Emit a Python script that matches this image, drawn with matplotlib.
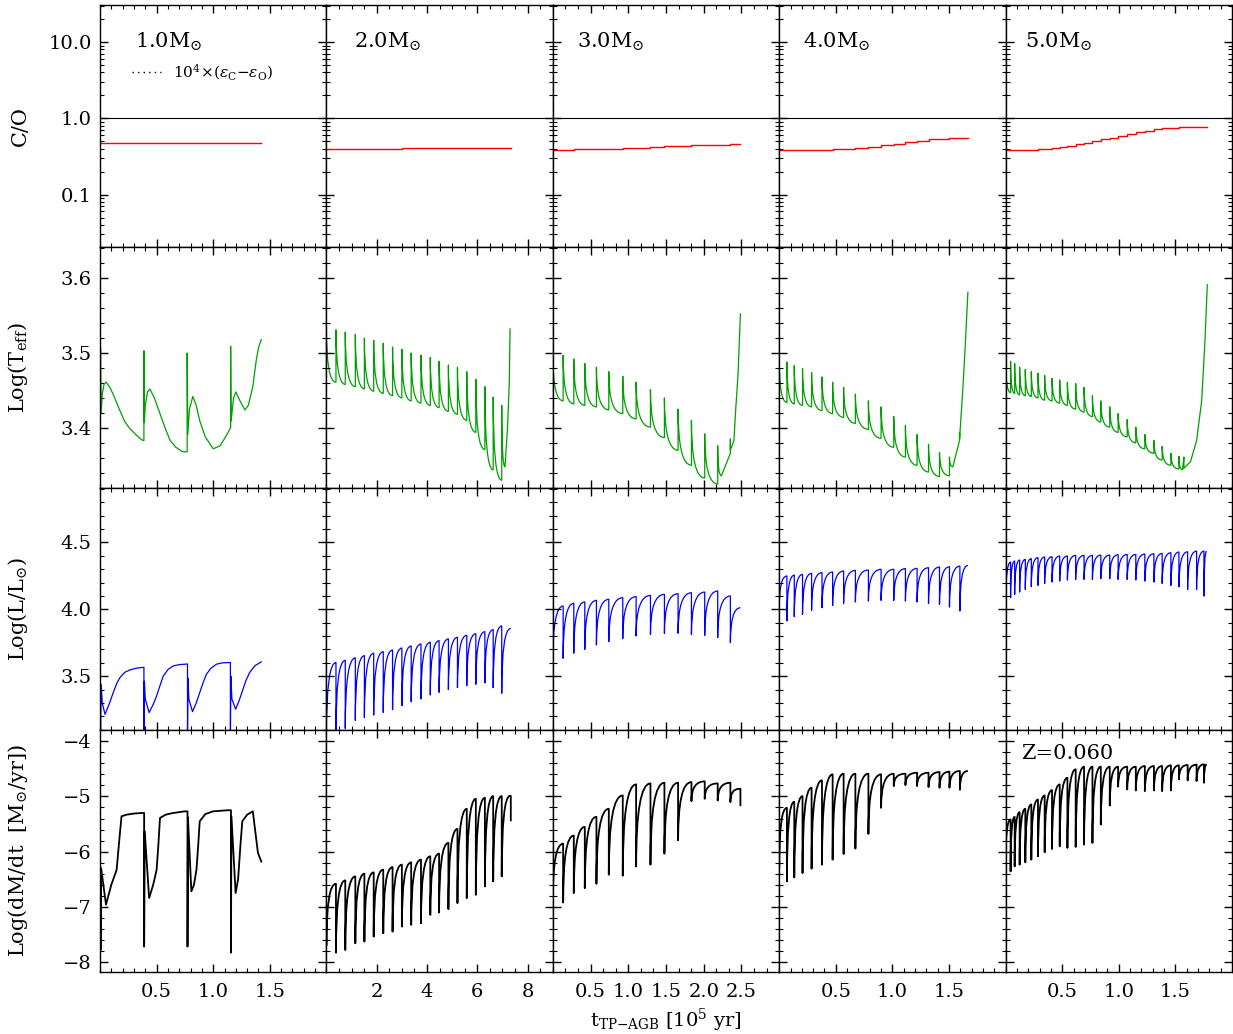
"""
TP-AGB evolution, Z=0.060: C/O, Teff, L and mass-loss rate vs time for 1-5 Msun
"""
import matplotlib
matplotlib.use('Agg')
import matplotlib.pyplot as plt
from matplotlib.path import Path
from matplotlib.patches import PathPatch
from matplotlib.lines import Line2D
from matplotlib.ticker import (MultipleLocator, FixedLocator, LogLocator,
                               NullFormatter, FuncFormatter)

plt.rcParams.update({
    'font.family': 'serif', 'font.serif': ['DejaVu Serif'],
    'mathtext.fontset': 'dejavuserif', 'font.size': 14,
    'xtick.direction': 'in', 'ytick.direction': 'in',
    'xtick.top': True, 'ytick.right': True,
    'xtick.major.size': 6, 'ytick.major.size': 6,
    'xtick.minor.size': 3, 'ytick.minor.size': 3,
    'xtick.major.width': 1.0, 'ytick.major.width': 1.0,
    'xtick.minor.width': 0.8, 'ytick.minor.width': 0.8,
    'axes.linewidth': 1.0,
})

# ---------------- data ----------------
masses = ['1.0', '2.0', '3.0', '4.0', '5.0']
metal = 'Z=0.060'

# 1.0 Msun: few pulses, explicit tracks
T1_t = [0.0, 0.005, 0.01, 0.02, 0.035, 0.053, 0.088, 0.13, 0.176, 0.22, 0.264, 0.323, 0.367, 0.388,
        0.388, 0.392, 0.40, 0.42, 0.44, 0.48, 0.53, 0.58, 0.62, 0.67, 0.73, 0.77,
        0.77, 0.775, 0.79, 0.82, 0.85, 0.88, 0.93, 1.0, 1.06, 1.11, 1.154,
        1.154, 1.158, 1.18, 1.20, 1.24, 1.28, 1.31, 1.35, 1.38, 1.40, 1.425]
T1_v = [3.44, 3.507, 3.42, 3.445, 3.458, 3.461, 3.454, 3.44, 3.423, 3.408, 3.399, 3.390, 3.384, 3.383,
        3.503, 3.407, 3.43, 3.448, 3.452, 3.44, 3.419, 3.398, 3.383, 3.374, 3.368, 3.368,
        3.50, 3.391, 3.425, 3.442, 3.43, 3.41, 3.388, 3.372, 3.376, 3.388, 3.40,
        3.509, 3.409, 3.44, 3.448, 3.435, 3.424, 3.43, 3.455, 3.49, 3.507, 3.518]
L1_t = [0.0, 0.005, 0.01, 0.02, 0.044, 0.08, 0.117, 0.15, 0.176, 0.22, 0.264, 0.32, 0.367, 0.388,
        0.388, 0.392, 0.40, 0.434, 0.47, 0.5, 0.53, 0.558, 0.60, 0.646, 0.70, 0.749, 0.773,
        0.773, 0.777, 0.785, 0.817, 0.85, 0.881, 0.91, 0.94, 0.98, 1.028, 1.08, 1.13, 1.152,
        1.152, 1.156, 1.165, 1.198, 1.23, 1.263, 1.29, 1.322, 1.37, 1.425]
L1_v = [3.46, 3.05, 3.44, 3.30, 3.216, 3.29, 3.378, 3.45, 3.49, 3.53, 3.547, 3.560, 3.565, 3.567,
        3.05, 3.463, 3.33, 3.229, 3.29, 3.353, 3.43, 3.50, 3.55, 3.577, 3.587, 3.59, 3.592,
        3.05, 3.485, 3.33, 3.236, 3.30, 3.378, 3.45, 3.515, 3.56, 3.59, 3.60, 3.602, 3.603,
        3.05, 3.50, 3.33, 3.254, 3.32, 3.403, 3.47, 3.528, 3.58, 3.607]
M1_t = [0.0, 0.005, 0.01, 0.053, 0.10, 0.147, 0.17, 0.19, 0.235, 0.30, 0.367, 0.39,
        0.39, 0.395, 0.434, 0.47, 0.5, 0.515, 0.53, 0.58, 0.646, 0.749, 0.773,
        0.773, 0.777, 0.807, 0.83, 0.852, 0.867, 0.881, 0.93, 0.998, 1.13, 1.157,
        1.157, 1.161, 1.198, 1.22, 1.24, 1.257, 1.30, 1.35, 1.395, 1.425]
M1_v = [-6.08, -7.78, -6.3, -6.96, -6.6, -6.33, -5.8, -5.36, -5.33, -5.31, -5.30, -5.30,
        -7.72, -5.63, -6.84, -6.6, -6.33, -5.9, -5.39, -5.33, -5.30, -5.27, -5.27,
        -7.72, -5.38, -6.72, -6.6, -6.33, -5.9, -5.45, -5.32, -5.27, -5.25, -5.25,
        -7.83, -5.36, -6.75, -6.5, -5.9, -5.45, -5.33, -5.27, -6.02, -6.18]
co1_t = [0.0, 1.425]
co1_v = [0.47, 0.47]

# 2.0 Msun: pulse times, value just before each pulse (hi) and at the pulse (lo)
tp2 = [0, 0.38, 0.75, 1.15, 1.51, 1.88, 2.26, 2.63, 3.00, 3.37, 3.76, 4.13, 4.48, 4.85, 5.21, 5.58, 5.94,
       6.30, 6.63, 6.97]
L2_hi = [3.50, 3.602, 3.619, 3.637, 3.654, 3.672, 3.684, 3.696, 3.711, 3.726, 3.741, 3.754, 3.766, 3.779,
         3.791, 3.806, 3.818, 3.833, 3.848, 3.876]
L2_lo = [3.05, 3.08, 3.11, 3.17, 3.19, 3.21, 3.23, 3.25, 3.28, 3.31, 3.33, 3.36, 3.38, 3.40, 3.415, 3.43,
         3.44, 3.45, 3.415, 3.373]
L2_tail = ([7.33], [3.858])
T2_hi = [3.47, 3.461, 3.458, 3.455, 3.452, 3.449, 3.446, 3.443, 3.440, 3.436, 3.433, 3.430, 3.427, 3.422,
         3.418, 3.410, 3.394, 3.371, 3.344, 3.330]
T2_lo = [3.534, 3.531, 3.528, 3.525, 3.520, 3.517, 3.513, 3.508, 3.505, 3.500, 3.497, 3.494, 3.489, 3.484,
         3.481, 3.475, 3.465, 3.455, 3.441, 3.430]
T2_tail = ([7.10, 7.20, 7.27, 7.30], [3.348, 3.40, 3.46, 3.533])
M2_hi = [-7.30, -6.582, -6.521, -6.449, -6.40, -6.376, -6.327, -6.279, -6.236, -6.194, -6.145, -6.085, -6.036,
         -5.842, -5.588, -5.224, -5.042, -5.024, -4.994, -4.994]
M2_lo = [-7.70, -7.830, -7.782, -7.661, -7.630, -7.539, -7.479, -7.449, -7.358, -7.327, -7.297, -7.145, -7.103,
         -7.042, -6.933, -6.842, -6.782, -6.630, -6.539, -6.449]
M2_tail = ([7.30, 7.33, 7.33], [-4.99, -4.99, -5.45])
co2_t = [0, 1.51, 3.00, 4.48, 5.58, 6.30, 7.33]
co2_v = [0.400, 0.402, 0.405, 0.408, 0.411, 0.414, 0.414]

# 3.0 Msun
tp3 = [0, 0.137, 0.278, 0.424, 0.578, 0.742, 0.927, 1.104, 1.294, 1.479, 1.660, 1.837, 2.013, 2.185, 2.353]
L3_hi = [3.95, 4.025, 4.045, 4.055, 4.067, 4.075, 4.087, 4.095, 4.104, 4.112, 4.117, 4.124, 4.129, 4.137, 4.10]
L3_lo = [3.602, 3.634, 3.672, 3.701, 3.734, 3.759, 3.781, 3.801, 3.813, 3.821, 3.821, 3.813, 3.806, 3.789, 3.751]
L3_tail = ([2.486], [4.012])
T3_hi = [3.46, 3.436, 3.432, 3.430, 3.428, 3.424, 3.419, 3.412, 3.401, 3.387, 3.370, 3.350, 3.333, 3.325]
T3_lo = [3.500, 3.497, 3.492, 3.486, 3.481, 3.475, 3.469, 3.461, 3.451, 3.440, 3.425, 3.410, 3.392, 3.376]
T3_tail = ([2.234, 2.353, 2.353, 2.353, 2.40, 2.42, 2.455, 2.486],
           [3.336, 3.366, 3.385, 3.370, 3.383, 3.419, 3.472, 3.553])
M3_hi = [-6.30, -5.855, -5.709, -5.552, -5.370, -5.224, -4.982, -4.782, -4.764, -4.752, -4.752, -4.739, -4.727,
         -4.764, -4.752]
M3_lo = [-6.90, -6.921, -6.752, -6.661, -6.582, -6.418, -6.436, -6.267, -6.236, -6.036, -5.794, -5.085, -5.042,
         -5.073, -5.103]
M3_tail = ([2.47, 2.486, 2.486], [-4.861, -4.861, -5.176])
co3_v = [0.390, 0.390, 0.391, 0.393, 0.396, 0.400, 0.406, 0.413, 0.421, 0.430, 0.438, 0.445, 0.450, 0.453,
         0.455, 0.455]
end3 = 2.486

# 4.0 Msun
tp4 = [0, 0.068, 0.133, 0.206, 0.286, 0.378, 0.472, 0.569, 0.673, 0.788, 0.900, 1.012, 1.115, 1.218, 1.319,
       1.416, 1.504, 1.596]
L4_hi = [4.20, 4.249, 4.256, 4.261, 4.269, 4.274, 4.279, 4.286, 4.291, 4.294, 4.299, 4.299, 4.304, 4.306, 4.311,
         4.316, 4.318, 4.323]
L4_lo = [4.005, 3.913, 3.945, 3.963, 3.993, 4.012, 4.030, 4.045, 4.055, 4.062, 4.067, 4.067, 4.062, 4.055, 4.045,
         4.037, 4.017, 3.988]
L4_tail = ([1.667], [4.328])
T4_hi = [3.44, 3.434, 3.432, 3.430, 3.428, 3.423, 3.419, 3.414, 3.406, 3.398, 3.386, 3.374, 3.361, 3.350, 3.341,
         3.335, 3.336]
T4_lo = [3.492, 3.488, 3.483, 3.479, 3.474, 3.468, 3.461, 3.454, 3.445, 3.436, 3.428, 3.415, 3.403, 3.391, 3.378,
         3.367, 3.361]
T4_tail = ([1.534, 1.593, 1.593, 1.593, 1.622, 1.646, 1.667], [3.348, 3.383, 3.393, 3.385, 3.451, 3.517, 3.582])
M4_hi = [-5.90, -5.206, -5.097, -4.994, -4.842, -4.709, -4.600, -4.588, -4.588, -4.588, -4.600, -4.588, -4.588,
         -4.570, -4.570, -4.558, -4.551, -4.539]
M4_lo = [-6.297, -6.539, -6.467, -6.388, -6.309, -6.236, -6.145, -6.042, -5.945, -5.679, -5.206, -4.812, -4.794,
         -4.812, -4.830, -4.842, -4.842, -4.879]
M4_tail = ([1.667], [-4.539])
co4_v = [0.380, 0.380, 0.381, 0.383, 0.386, 0.390, 0.395, 0.402, 0.412, 0.425, 0.442, 0.462, 0.485, 0.510, 0.530,
         0.542, 0.545, 0.545, 0.545]
end4 = 1.667

# 5.0 Msun
tp5 = [0, 0.044, 0.080, 0.124, 0.174, 0.227, 0.286, 0.345, 0.410, 0.478, 0.546, 0.619, 0.693, 0.767, 0.841,
       0.920, 0.994, 1.074, 1.150, 1.230, 1.310, 1.383, 1.460, 1.531, 1.608, 1.687, 1.752]
L5_hi = [4.30, 4.353, 4.361, 4.368, 4.373, 4.378, 4.386, 4.391, 4.393, 4.398, 4.398, 4.403, 4.403, 4.403, 4.405,
         4.405, 4.408, 4.410, 4.410, 4.413, 4.415, 4.418, 4.423, 4.428, 4.430, 4.435, 4.435]
L5_lo = [4.025, 4.087, 4.112, 4.129, 4.149, 4.169, 4.179, 4.194, 4.204, 4.211, 4.219, 4.224, 4.224, 4.224, 4.229,
         4.229, 4.224, 4.224, 4.219, 4.211, 4.204, 4.194, 4.179, 4.169, 4.149, 4.149, 4.099]
L5_tail = ([1.776], [4.435])
T5_hi = [3.45, 3.447, 3.446, 3.444, 3.443, 3.442, 3.440, 3.437, 3.436, 3.433, 3.430, 3.425, 3.421, 3.415, 3.408,
         3.401, 3.394, 3.388, 3.380, 3.372, 3.366, 3.357, 3.350, 3.345]
T5_lo = [3.492, 3.489, 3.486, 3.481, 3.478, 3.475, 3.473, 3.470, 3.466, 3.464, 3.461, 3.459, 3.454, 3.443, 3.436,
         3.428, 3.419, 3.411, 3.401, 3.391, 3.383, 3.375, 3.366, 3.362]
T5_tail = ([1.563, 1.575, 1.575, 1.634, 1.687, 1.732, 1.761, 1.782],
           [3.344, 3.361, 3.346, 3.355, 3.383, 3.436, 3.516, 3.592])
M5_hi = [-5.60, -5.418, -5.370, -5.285, -5.224, -5.145, -5.055, -4.982, -4.885, -4.782, -4.661, -4.509, -4.461,
         -4.461, -4.461, -4.461, -4.461, -4.461, -4.461, -4.449, -4.449, -4.449, -4.436, -4.436, -4.430, -4.424,
         -4.418]
M5_lo = [-6.206, -6.358, -6.267, -6.236, -6.194, -6.145, -6.085, -6.012, -5.952, -5.903, -5.933, -5.915, -5.873,
         -5.842, -5.509, -5.164, -4.824, -4.873, -4.891, -4.903, -4.891, -4.903, -4.891, -4.691, -4.709, -4.721,
         -4.752]
M5_tail = ([1.776], [-4.418])
co5_v = [0.379, 0.379, 0.380, 0.382, 0.384, 0.388, 0.393, 0.400, 0.410, 0.422, 0.437, 0.455, 0.477, 0.502, 0.530,
         0.560, 0.592, 0.625, 0.658, 0.690, 0.718, 0.740, 0.755, 0.760, 0.761, 0.761, 0.761, 0.761]
end5 = 1.776

# ---------------- layout ----------------
XLIM = [(0, 2), (0, 9), (0, 3), (0, 2), (0, 2)]
XTICKS = [[0.5, 1.0, 1.5], [2, 4, 6, 8], [0.5, 1.0, 1.5, 2.0, 2.5], [0.5, 1.0, 1.5], [0.5, 1.0, 1.5]]
XMINOR = [0.1, 0.5, 1 / 6, 0.1, 0.1]
XFMT = ['%.1f', '%d', '%.1f', '%.1f', '%.1f']
YLIM = [(0.0207, 30.7), (3.319, 3.642), (3.097, 4.903), (-8.18, -3.8)]
YTICKS = [[0.1, 1.0, 10.0], [3.4, 3.5, 3.6], [3.5, 4.0, 4.5], [-8, -7, -6, -5, -4]]
YMINOR = [None, 0.02, 0.1, 0.2]
YFMT = ['%.1f', '%.1f', '%.1f', '%d']
YLAB = ['C/O', r'Log(T$_{\rm eff}$)', r'Log(L/L$_{\odot}$)', r'Log(dM/dt  [M$_{\odot}$/yr])']
RED, GREEN, BLUE = '#ff0000', '#00a000', '#0000ff'
MX = [0.154, 0.123, 0.106, 0.106, 0.084]


def pulses(ax, t, hi, lo, tail, color, lw):
    # vertical jump at each pulse, then a quick recovery that flattens toward the next pulse
    tail_t, tail_v = tail
    nt = list(t[1:]) + [tail_t[0]]
    nv = list(hi[1:]) + [tail_v[0]]
    verts, codes = [(t[0], hi[0])], [Path.MOVETO]
    for ti, li, a, b in zip(t, lo, nt, nv):
        verts += [(ti, li), (ti, b), (a, b)]
        codes += [Path.LINETO, Path.CURVE3, Path.CURVE3]
    for a, b in zip(tail_t[1:], tail_v[1:]):
        verts.append((a, b)); codes.append(Path.LINETO)
    ax.add_patch(PathPatch(Path(verts, codes), fill=False, edgecolor=color, lw=lw, joinstyle='round'))


fig = plt.figure(figsize=(12.33, 10.34), dpi=100)
axs = fig.subplots(4, 5, gridspec_kw=dict(hspace=0, wspace=0, left=0.0811, right=0.9992,
                                          top=0.9952, bottom=0.0600))

for r in range(4):
    for c in range(5):
        ax = axs[r, c]
        if r == 0:
            ax.set_yscale('log')
            ax.yaxis.set_major_locator(FixedLocator(YTICKS[0]))
            ax.yaxis.set_minor_locator(LogLocator(subs=range(2, 10)))
            ax.yaxis.set_minor_formatter(NullFormatter())
            ax.yaxis.set_major_formatter(FuncFormatter(lambda v, p: '%.1f' % v))
        else:
            ax.yaxis.set_major_locator(FixedLocator(YTICKS[r]))
            ax.yaxis.set_minor_locator(MultipleLocator(YMINOR[r]))
            ax.yaxis.set_major_formatter(FuncFormatter(lambda v, p, f=YFMT[r]: (f % v).replace('-', '\u2212')))
        ax.set_ylim(*YLIM[r])
        ax.set_xlim(*XLIM[c])
        ax.xaxis.set_major_locator(FixedLocator(XTICKS[c]))
        ax.xaxis.set_minor_locator(MultipleLocator(XMINOR[c]))
        ax.xaxis.set_major_formatter(FuncFormatter(lambda v, p, f=XFMT[c]: f % v))
        ax.tick_params(which='both', top=True, right=True, labelleft=(c == 0), labelbottom=(r == 3))
        ax.tick_params(axis='x', pad=8, labelsize=14)
        ax.tick_params(axis='y', pad=6, labelsize=14)
    axs[r, 0].set_ylabel(YLAB[r], fontsize=15)
    axs[r, 0].yaxis.set_label_coords(-0.31, 0.5)

# row 1: C/O
for c in range(5):
    axs[0, c].axhline(1.0, color='k', lw=0.8)
    axs[0, c].text(MX[c], 0.846, masses[c] + r'M$_{\odot}$', transform=axs[0, c].transAxes,
                   fontsize=15, va='center', ha='left')
axs[0, 0].step(co1_t, co1_v, where='post', color=RED, lw=1.0)
axs[0, 1].step(co2_t, co2_v, where='post', color=RED, lw=1.0)
axs[0, 2].step(tp3 + [end3], co3_v, where='post', color=RED, lw=1.0)
axs[0, 3].step(tp4 + [end4], co4_v, where='post', color=RED, lw=1.0)
axs[0, 4].step(tp5 + [end5], co5_v, where='post', color=RED, lw=1.0)
axs[0, 0].legend([Line2D([], [], color='k', lw=1.0, ls=(0, (1, 3)))],
                 [r'$10^4\!\times\!(\epsilon_{\rm C}{-}\epsilon_{\rm O})$'],
                 loc='center left', bbox_to_anchor=(0.14, 0.722), frameon=False, fontsize=11,
                 handlelength=1.9, handletextpad=0.8, borderpad=0, borderaxespad=0)

# row 2: Teff
axs[1, 0].plot(T1_t, T1_v, color=GREEN, lw=0.9)
pulses(axs[1, 1], tp2, T2_hi, T2_lo, T2_tail, GREEN, 0.9)
pulses(axs[1, 2], tp3[:14], T3_hi, T3_lo, T3_tail, GREEN, 0.9)
pulses(axs[1, 3], tp4[:17], T4_hi, T4_lo, T4_tail, GREEN, 0.9)
pulses(axs[1, 4], tp5[:24], T5_hi, T5_lo, T5_tail, GREEN, 0.9)

# row 3: L
axs[2, 0].plot(L1_t, L1_v, color=BLUE, lw=0.9)
pulses(axs[2, 1], tp2, L2_hi, L2_lo, L2_tail, BLUE, 0.9)
pulses(axs[2, 2], tp3, L3_hi, L3_lo, L3_tail, BLUE, 0.9)
pulses(axs[2, 3], tp4, L4_hi, L4_lo, L4_tail, BLUE, 0.9)
pulses(axs[2, 4], tp5, L5_hi, L5_lo, L5_tail, BLUE, 0.9)

# row 4: mass-loss rate
axs[3, 0].plot(M1_t, M1_v, color='k', lw=1.3)
pulses(axs[3, 1], tp2, M2_hi, M2_lo, M2_tail, 'k', 1.3)
pulses(axs[3, 2], tp3, M3_hi, M3_lo, M3_tail, 'k', 1.3)
pulses(axs[3, 3], tp4, M4_hi, M4_lo, M4_tail, 'k', 1.3)
pulses(axs[3, 4], tp5, M5_hi, M5_lo, M5_tail, 'k', 1.3)
axs[3, 4].text(0.07, 0.905, metal, transform=axs[3, 4].transAxes, fontsize=15, va='center', ha='left')

fig.text(666 / 1233, 1 - 1020 / 1034, r't$_{\rm TP{-}AGB}$ [10$^5$ yr]', ha='center', va='center', fontsize=14)

fig.savefig('out.png', dpi=100)
